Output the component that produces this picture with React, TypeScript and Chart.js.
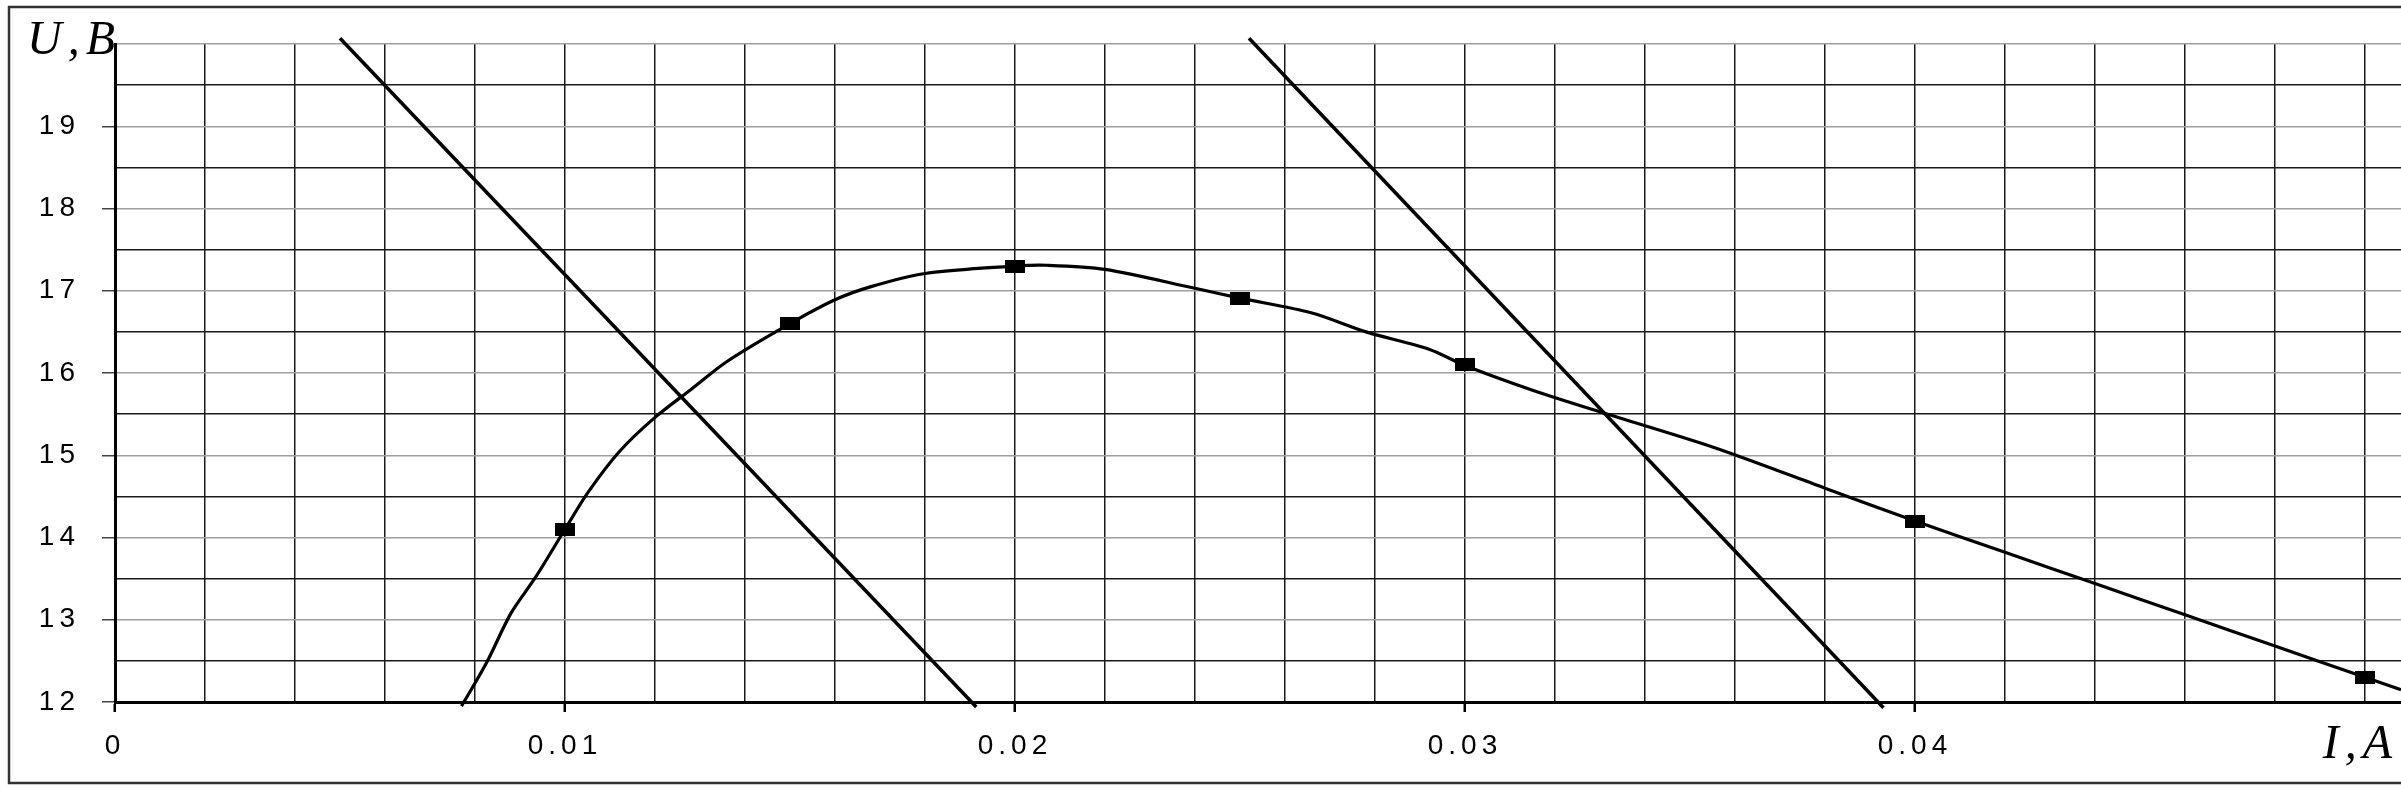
import { useEffect, useRef } from "react"
import { Chart, registerables } from "chart.js"

Chart.register(...registerables)

// measured points (rectangular markers)
const measuredI = [0.01, 0.015, 0.02, 0.025, 0.03, 0.04, 0.05]
const measuredU = [14.1, 16.6, 17.3, 16.9, 16.1, 14.2, 12.3]

// smooth curve traced through the points
const curveI = [
  0.0077, 0.00825, 0.0088, 0.00935, 0.01, 0.0105, 0.0112, 0.012, 0.0128, 0.0136, 0.015, 0.016, 0.0168, 0.018,
  0.02, 0.0207, 0.022, 0.024, 0.025, 0.0266, 0.0278, 0.0292, 0.03, 0.0315, 0.0331, 0.0355, 0.038, 0.04, 0.042,
  0.044, 0.046, 0.048, 0.05, 0.0508,
]
const curveU = [
  11.95, 12.47, 13.08, 13.52, 14.1, 14.54, 15.04, 15.46, 15.8, 16.14, 16.6, 16.89, 17.05, 17.21, 17.3, 17.31,
  17.26, 17.03, 16.91, 16.73, 16.5, 16.29, 16.09, 15.79, 15.51, 15.1, 14.6, 14.2, 13.82, 13.44, 13.06, 12.68,
  12.3, 12.15,
]

// two straight load lines
const lineAI = [0.005, 0.01914]
const lineAU = [20.07, 11.94]
const lineBI = [0.0252, 0.0393]
const lineBU = [20.07, 11.93]

const xGridStep = 0.002
const xGridCount = 25
const xTickLabels = ["0", "0.01", "0.02", "0.03", "0.04"]
const yTickLabels = ["12", "13", "14", "15", "16", "17", "18", "19"]

const FONT = "'Liberation Sans', Arial, sans-serif"
const SERIF = "'Liberation Serif', 'Times New Roman', serif"

const pts = (xs: number[], ys: number[]) => xs.map((x, i) => ({ x, y: ys[i] }))

const isXLabel = (v: number) => xTickLabels.includes(String(Math.round(v * 1000) / 1000))
const isYLabel = (v: number) => yTickLabels.includes(String(v))

export default function App() {
  const chartRef = useRef<HTMLCanvasElement>(null)
  const chartInstance = useRef<Chart | null>(null)

  useEffect(() => {
    if (!chartRef.current) return
    if (chartInstance.current) chartInstance.current.destroy()
    const ctx = chartRef.current.getContext("2d")
    if (!ctx) return

    // 20x13 black rectangle marker
    const marker = document.createElement("canvas")
    marker.width = 20
    marker.height = 13
    const mctx = marker.getContext("2d")
    if (mctx) {
      mctx.fillStyle = "#000"
      mctx.fillRect(0, 0, 20, 13)
    }

    const decor = {
      id: "decor",
      beforeDraw(chart: any) {
        const c = chart.ctx
        c.save()
        c.strokeStyle = "#333"
        c.lineWidth = 2.5
        c.strokeRect(9, 7, 2500, 776)
        c.restore()
        c.letterSpacing = "5px"
      },
      afterDraw(chart: any) {
        const c = chart.ctx
        const a = chart.chartArea
        c.save()
        c.fillStyle = "#000"
        c.font = `italic 48px ${SERIF}`
        c.letterSpacing = "6px"
        c.textBaseline = "alphabetic"
        c.textAlign = "left"
        c.fillText("U,B", 27, a.top + 10)
        c.textAlign = "right"
        c.fillText("I,A", 2398, 758)
        c.restore()
        c.letterSpacing = "0px"
      },
    }

    chartInstance.current = new Chart(ctx, {
      type: "line",
      data: {
        datasets: [
          {
            label: "curve",
            data: pts(curveI, curveU),
            borderColor: "#000",
            borderWidth: 3.2,
            pointRadius: 0,
            tension: 0.3,
            clip: false as any,
          },
          {
            label: "measured",
            data: pts(measuredI, measuredU),
            showLine: false,
            pointStyle: marker as any,
            pointRadius: 10,
            clip: false as any,
          },
          {
            label: "lineA",
            data: pts(lineAI, lineAU),
            borderColor: "#000",
            borderWidth: 3.5,
            pointRadius: 0,
            clip: false as any,
          },
          {
            label: "lineB",
            data: pts(lineBI, lineBU),
            borderColor: "#000",
            borderWidth: 3.5,
            pointRadius: 0,
            clip: false as any,
          },
        ],
      },
      options: {
        animation: false,
        responsive: false,
        devicePixelRatio: 1,
        // the plot runs off the right edge of the picture
        layout: { autoPadding: false, padding: { top: 44, left: 0, right: 0, bottom: 0 } },
        plugins: { legend: { display: false }, tooltip: { enabled: false } },
        scales: {
          x: {
            type: "linear",
            min: 0,
            max: 0.0508,
            afterBuildTicks: (scale: any) => {
              const t = []
              for (let k = 0; k <= xGridCount; k++) t.push({ value: k * xGridStep })
              scale.ticks = t
            },
            afterFit: (scale: any) => {
              scale.height = 87
              scale.paddingLeft = 0
              scale.paddingRight = 0
            },
            ticks: {
              autoSkip: false,
              maxRotation: 0,
              padding: 17,
              color: "#000",
              font: { family: FONT, size: 28 },
              callback: (v: any) => (isXLabel(Number(v)) ? String(Math.round(Number(v) * 1000) / 1000) : ""),
            },
            grid: {
              color: "#1a1a1a",
              lineWidth: 1.5,
              tickLength: 10,
              tickWidth: 2.5,
              tickColor: (c: any) => (c.tick && isXLabel(c.tick.value) ? "#000" : "rgba(0,0,0,0)"),
            },
            border: { display: true, color: "#000", width: 3 },
          },
          y: {
            type: "linear",
            min: 12,
            max: 20,
            afterFit: (scale: any) => {
              scale.width = 115
              scale.paddingTop = 0
              scale.paddingBottom = 0
            },
            ticks: {
              stepSize: 0.5,
              autoSkip: false,
              padding: 22,
              color: "#000",
              font: { family: FONT, size: 28 },
              callback: (v: any) => (isYLabel(Number(v)) ? String(v) : ""),
            },
            grid: {
              color: (c: any) => (c.tick && Number.isInteger(c.tick.value) ? "#a0a0a0" : "#1a1a1a"),
              lineWidth: 1.5,
              tickLength: 13,
              tickWidth: 1.5,
              tickColor: (c: any) => (c.tick && isYLabel(c.tick.value) ? "#444" : "rgba(0,0,0,0)"),
            },
            border: { display: true, color: "#000", width: 3 },
          },
        },
      },
      plugins: [decor],
    })

    return () => {
      if (chartInstance.current) {
        chartInstance.current.destroy()
        chartInstance.current = null
      }
    }
  }, [])

  return (
    <div style={{ position: "fixed", left: 0, top: 0, width: 2401, height: 789, background: "#fff" }}>
      <canvas ref={chartRef} width={2401} height={789}></canvas>
    </div>
  )
}
